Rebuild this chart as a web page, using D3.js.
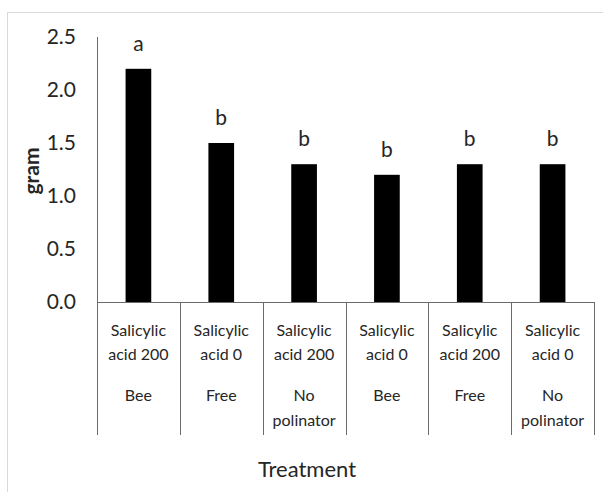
<!DOCTYPE html>
<html lang="en">
  <head>
    <meta charset="UTF-8" />
    <title>gram by treatment</title>
    <style>
      body { margin: 0; background: #fff; }
      text { font-family: Lato, "Open Sans", sans-serif; fill: #262626; }
    </style>
  </head>
  <body>
    <div class="chart"></div>
    <script src="https://d3js.org/d3.v7.min.js"></script>
    <script>
      // 資料
      const treatments = ['Salicylic acid 200', 'Salicylic acid 0', 'Salicylic acid 200',
                          'Salicylic acid 0', 'Salicylic acid 200', 'Salicylic acid 0'];
      const pollination = ['Bee', 'Free', 'No polinator', 'Bee', 'Free', 'No polinator'];
      const values = [2.2, 1.5, 1.3, 1.2, 1.3, 1.3];
      const letters = ['a', 'b', 'b', 'b', 'b', 'b'];
      const yTicks = [0, 0.5, 1.0, 1.5, 2.0, 2.5];

      // 建立SVG
      const svgWidth = 603, svgHeight = 492;
      const plotLeft = 97, plotRight = 594, plotTop = 37, plotBottom = 302;

      const svg = d3.select('.chart')
                    .append('svg')
                    .attr('width', svgWidth)
                    .attr('height', svgHeight);

      // 外框
      svg.append('rect')
        .attr('x', 7.5).attr('y', 12.5)
        .attr('width', 640).attr('height', 520)
        .attr('fill', 'none')
        .attr('stroke', '#d9d9d9');

      // X軸 scale
      const xScale = d3.scaleBand()
                .domain(d3.range(values.length))
                .range([plotLeft, plotRight])
                .padding(0);

      // Y軸 scale
      const yScale = d3.scaleLinear()
                .domain([0, 2.5])
                .range([plotBottom, plotTop]);

      const yAxis = svg.append('g')
        .attr('transform', `translate(${plotLeft},0)`)
        .call(d3.axisLeft(yScale)
                .tickValues(yTicks)
                .tickFormat(d3.format('.1f'))
                .tickSize(0)
                .tickPadding(21));
      yAxis.select('.domain').attr('stroke', '#6b6b6b').attr('d', `M0.5,${plotTop}V${plotBottom}`);
      yAxis.selectAll('text')
        .style('font-family', 'Lato, sans-serif')
        .style('font-size', '21px')
        .attr('fill', '#262626');

      // 長條
      const barW = xScale.bandwidth() * 0.31;
      svg.selectAll('.bar')
        .data(values)
        .join('rect')
        .attr('class', 'bar')
        .attr('x', (d, i) => xScale(i) + xScale.bandwidth() / 2 - barW / 2)
        .attr('y', d => yScale(d))
        .attr('width', barW)
        .attr('height', d => yScale(0) - yScale(d))
        .attr('fill', '#000');

      // 顯著性字母
      svg.selectAll('.letter')
        .data(letters)
        .join('text')
        .attr('class', 'letter')
        .attr('x', (d, i) => xScale(i) + xScale.bandwidth() / 2)
        .attr('y', (d, i) => yScale(values[i]) - 18)
        .attr('text-anchor', 'middle')
        .style('font-size', '21px')
        .text(d => d);

      // X軸線與分隔線
      svg.append('line')
        .attr('x1', plotLeft).attr('x2', plotRight)
        .attr('y1', plotBottom + 0.5).attr('y2', plotBottom + 0.5)
        .attr('stroke', '#6b6b6b');

      const bounds = d3.range(values.length + 1).map(i =>
        i < values.length ? xScale(i) : xScale(i - 1) + xScale.bandwidth());
      svg.selectAll('.divider')
        .data(bounds)
        .join('line')
        .attr('class', 'divider')
        .attr('x1', d => Math.round(d) + 0.5).attr('x2', d => Math.round(d) + 0.5)
        .attr('y1', plotBottom).attr('y2', 435)
        .attr('stroke', '#6b6b6b');

      // 類別標籤
      const cat = svg.selectAll('.cat')
        .data(treatments)
        .join('g')
        .attr('class', 'cat')
        .attr('transform', (d, i) => `translate(${xScale(i) + xScale.bandwidth() / 2},0)`);

      cat.each(function (d, i) {
        const g = d3.select(this);
        const words = d.split(' ');
        const l1 = words[0], l2 = words.slice(1).join(' ');
        [l1, l2].forEach((t, k) => {
          g.append('text')
            .attr('y', 336 + k * 24)
            .attr('text-anchor', 'middle')
            .style('font-size', '16px')
            .text(t);
        });
        pollination[i].split(' ').forEach((t, k) => {
          g.append('text')
            .attr('y', 401 + k * 25)
            .attr('text-anchor', 'middle')
            .style('font-size', '16px')
            .text(t);
        });
      });

      // 軸標題
      svg.append('text')
        .attr('x', 307).attr('y', 477)
        .attr('text-anchor', 'middle')
        .style('font-size', '22px')
        .text('Treatment');

      svg.append('text')
        .attr('transform', 'translate(39,171) rotate(-90)')
        .attr('text-anchor', 'middle')
        .style('font-size', '21px')
        .style('font-weight', 'bold')
        .text('gram');
    </script>
  </body>
</html>
